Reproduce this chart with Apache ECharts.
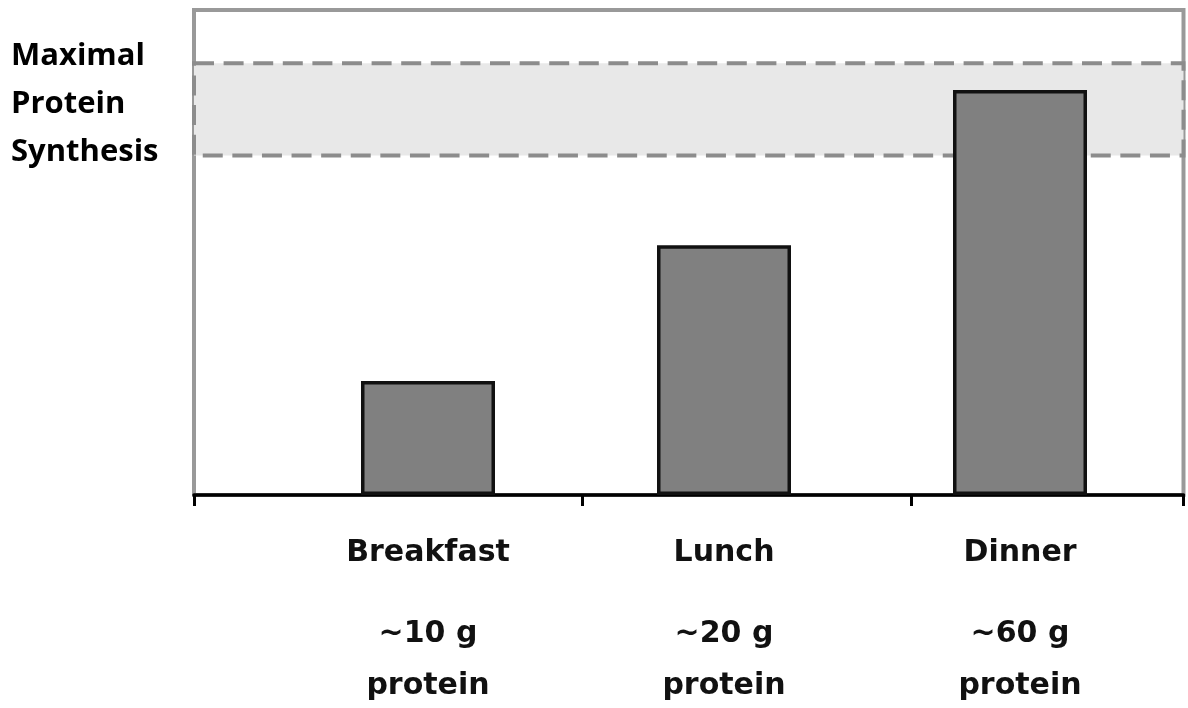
<!DOCTYPE html>
<html>
<head>
<meta charset="utf-8">
<title>Protein distribution across meals</title>
<script src="https://cdn.jsdelivr.net/npm/echarts@6/dist/echarts.min.js"></script>
<style>
  html, body { margin: 0; padding: 0; background: #ffffff; }
  #chart { width: 1188px; height: 708px; }
</style>
</head>
<body>
<div id="chart"></div>
<script>
// Meals and their protein intake
const meals = ['Breakfast', 'Lunch', 'Dinner'];
const proteinGrams = [10, 20, 60];
// Relative muscle protein synthesis after each meal (arbitrary units, 0-100)
const synthesis = [23.5, 51.5, 83.5];
// Range regarded as maximal protein synthesis
const maximalBand = [70, 89];
const bandLabel = 'Maximal\nProtein\nSynthesis';
// Category boundary tick marks on the outer frame axis (fraction of width)
const boundaryTicks = [0, 0.392, 0.7246, 1];

const chart = echarts.init(document.getElementById('chart'), null, { renderer: 'canvas' });

const option = {
  backgroundColor: '#ffffff',
  animation: false,
  grid: [
    // outer frame with the baseline axis and the shaded band
    { left: 194, right: 4.5, top: 10, bottom: 213, show: true,
      borderColor: '#999999', borderWidth: 4, backgroundColor: 'transparent' },
    // bars
    { left: 280, right: 20, top: 10, bottom: 213, show: false }
  ],
  xAxis: [
    {
      type: 'value', gridIndex: 0, min: 0, max: 1,
      axisLine: { show: true, lineStyle: { color: '#000000', width: 3.5 } },
      axisTick: { show: true, customValues: boundaryTicks, length: 11,
                  lineStyle: { color: '#000000', width: 3 } },
      axisLabel: { show: false },
      splitLine: { show: false }
    },
    {
      type: 'category', gridIndex: 1, data: meals,
      axisLine: { show: false },
      axisTick: { show: false },
      axisLabel: {
        margin: 3,
        interval: 0,
        formatter: function (value, index) {
          return '{name|' + value + '}\n{amt|~' + proteinGrams[index] + ' g}\n{amt|protein}';
        },
        rich: {
          name: { fontFamily: '"DejaVu Sans"', fontWeight: 'bold', fontSize: 30,
                  lineHeight: 110, color: '#111111' },
          amt: { fontFamily: '"DejaVu Sans"', fontWeight: 'bold', fontSize: 30,
                 lineHeight: 52, color: '#111111' }
        }
      }
    }
  ],
  yAxis: [
    { type: 'value', gridIndex: 0, min: 0, max: 100, show: false },
    { type: 'value', gridIndex: 1, min: 0, max: 100, show: false }
  ],
  graphic: [
    {
      type: 'text', left: 11, top: 32, z: 10,
      style: {
        text: bandLabel,
        fontFamily: '"Open Sans"', fontWeight: 'bold', fontSize: 31,
        lineHeight: 48, fill: '#000000'
      }
    }
  ],
  series: [
    {
      type: 'line', xAxisIndex: 0, yAxisIndex: 0, data: [],
      z: 1, clip: false, silent: true,
      markArea: {
        silent: true,
        itemStyle: {
          color: '#e8e8e8',
          borderColor: '#8c8c8c',
          borderWidth: 4,
          borderType: [20, 9.6]
        },
        data: [[{ yAxis: maximalBand[1] }, { yAxis: maximalBand[0] }]]
      }
    },
    {
      type: 'bar', xAxisIndex: 1, yAxisIndex: 1, z: 5,
      data: synthesis,
      barWidth: 134,
      itemStyle: { color: '#808080', borderColor: '#111111', borderWidth: 3.5 }
    }
  ]
};

chart.setOption(option);
</script>
</body>
</html>
